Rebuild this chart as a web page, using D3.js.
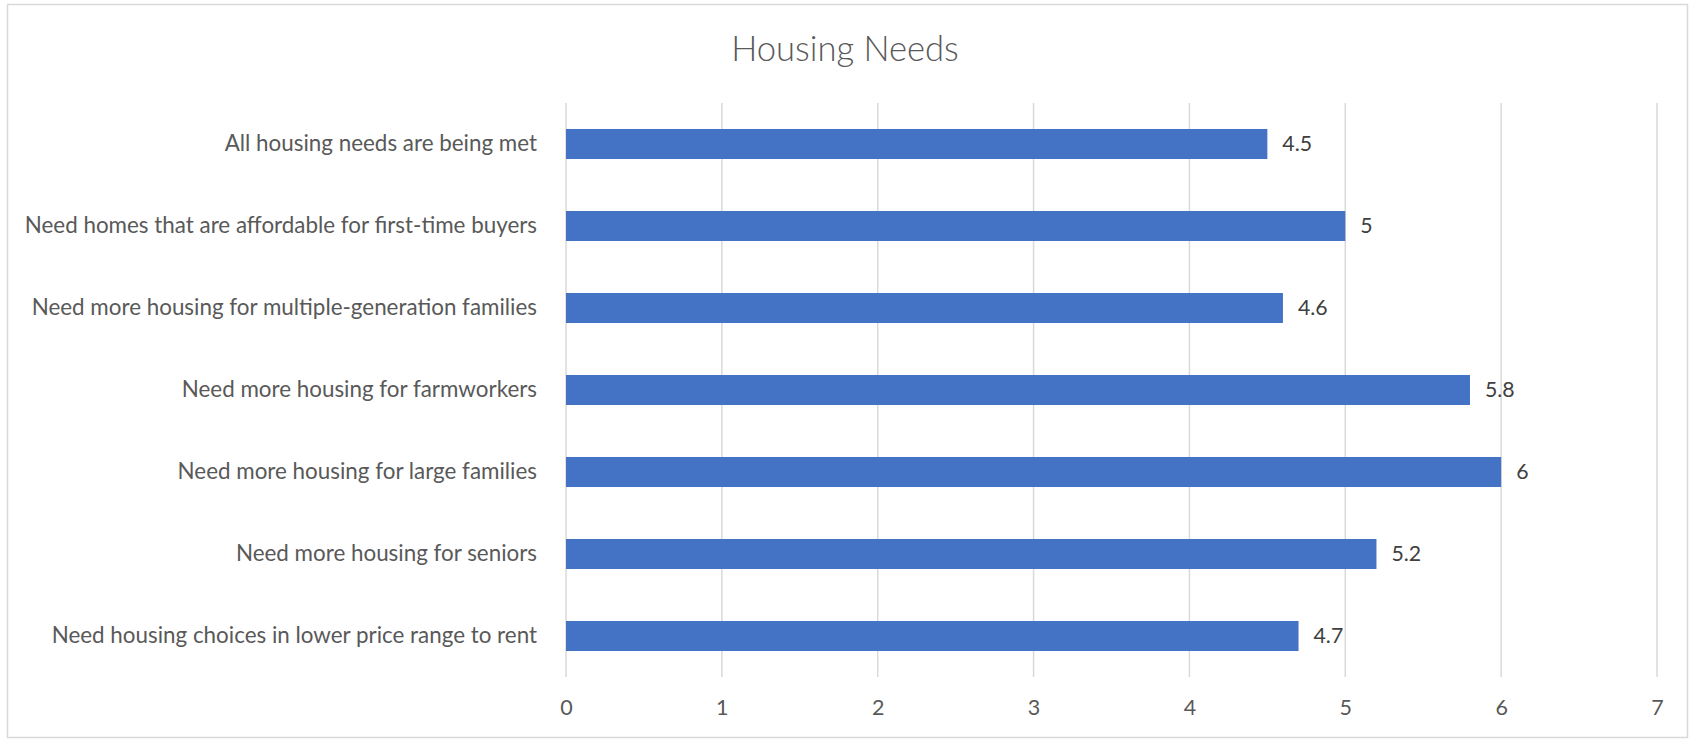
<!DOCTYPE html>
<html>
<head>
<meta charset="utf-8">
<script src="https://cdn.jsdelivr.net/npm/d3@7"></script>
<style>
  html, body { margin: 0; padding: 0; background: #fff; }
  svg { display: block; }
</style>
</head>
<body>
<div id="container"></div>
<script>
// Chart data
const categories = [
  "All housing needs are being met",
  "Need homes that are affordable for first-time buyers",
  "Need more housing for multiple-generation families",
  "Need more housing for farmworkers",
  "Need more housing for large families",
  "Need more housing for seniors",
  "Need housing choices in lower price range to rent"
];
const values = [4.5, 5, 4.6, 5.8, 6, 5.2, 4.7];
const xTicks = [0, 1, 2, 3, 4, 5, 6, 7];
const chartTitle = "Housing Needs";

function BuildGraph(){

  // chart constants
  let chartWidth = 1690;
  let chartHeight = 739;
  let left = 566, right = 1657, top = 103, bottom = 677;
  let font = "Lato, 'Open Sans', sans-serif";

  let svg = d3.select('#container')
    .append('svg')
    .attr('width', chartWidth)
    .attr('height', chartHeight);

  // outer border
  svg.append('rect')
    .attr('x', 7.5)
    .attr('y', 4.5)
    .attr('width', chartWidth - 10)
    .attr('height', chartHeight - 6)
    .attr('fill', 'none')
    .attr('stroke', '#d9d9d9')
    .attr('stroke-width', 1.5);

  let xScale = d3.scaleLinear()
    .domain([0, 7])
    .range([left, right]);

  let yScale = d3.scaleBand()
    .domain(categories)
    .range([top, bottom])
    .paddingInner(0.634)
    .paddingOuter(0.317);

  // gridlines
  svg.append('g')
    .selectAll('line')
    .data(xTicks)
    .enter()
    .append('line')
    .attr('x1', (d) => xScale(d))
    .attr('x2', (d) => xScale(d))
    .attr('y1', top)
    .attr('y2', bottom)
    .attr('stroke', '#d9d9d9')
    .attr('stroke-width', 1.5);

  // x axis labels
  let xAxis = d3.axisBottom(xScale)
    .tickValues(xTicks)
    .tickSize(0)
    .tickPadding(23)
    .tickFormat(d3.format('d'));
  let gx = svg.append('g')
    .attr('transform', 'translate(0,' + bottom + ')')
    .call(xAxis);
  gx.select('.domain').remove();
  gx.selectAll('text')
    .style('font-family', font)
    .style('font-size', '21.5px')
    .attr('fill', '#595959');

  // y axis labels
  let yAxis = d3.axisLeft(yScale)
    .tickSize(0)
    .tickPadding(29);
  let gy = svg.append('g')
    .attr('transform', 'translate(' + left + ',0)')
    .call(yAxis);
  gy.select('.domain').remove();
  gy.selectAll('text')
    .style('font-family', font)
    .style('font-size', '22.4px')
    .attr('fill', '#595959');

  // bars
  svg.append('g')
    .selectAll('rect')
    .data(values)
    .enter()
    .append('rect')
    .attr('x', xScale(0))
    .attr('y', (d, i) => yScale(categories[i]))
    .attr('width', (d) => xScale(d) - xScale(0))
    .attr('height', yScale.bandwidth())
    .attr('fill', '#4472c4');

  // value labels
  svg.append('g')
    .selectAll('text')
    .data(values)
    .enter()
    .append('text')
    .attr('x', (d) => xScale(d) + 15)
    .attr('y', (d, i) => yScale(categories[i]) + yScale.bandwidth() / 2)
    .attr('dy', '0.35em')
    .style('font-family', font)
    .style('font-size', '21.3px')
    .attr('fill', '#404040')
    .text((d) => d);

  // title
  svg.append('text')
    .attr('x', chartWidth / 2)
    .attr('y', 61)
    .attr('text-anchor', 'middle')
    .style('font-family', font)
    .style('font-size', '34.6px')
    .style('font-weight', 300)
    .attr('fill', '#595959')
    .text(chartTitle);
}

BuildGraph();
</script>
</body>
</html>
